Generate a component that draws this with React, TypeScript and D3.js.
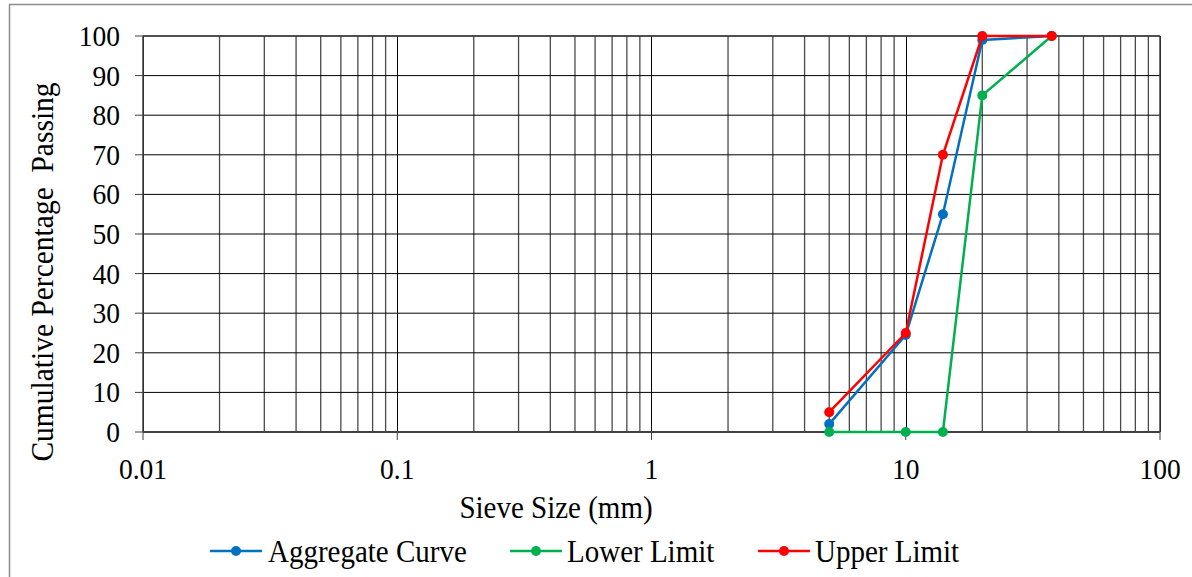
import React from "react";
import * as d3 from "d3";

const sieveSizes = [5, 10, 14, 20, 37.5];
const aggregateCurve = [2, 24.5, 55, 99, 100];
const lowerLimit = [0, 0, 0, 85, 100];
const upperLimit = [5, 25, 70, 100, 100];
const xTickValues = [0.01, 0.1, 1, 10, 100];
const xTickLabels = ["0.01", "0.1", "1", "10", "100"];
const yTickValues = [0, 10, 20, 30, 40, 50, 60, 70, 80, 90, 100];

const series = [
  { name: "Aggregate Curve", values: aggregateCurve, color: "#0070C0" },
  { name: "Lower Limit", values: lowerLimit, color: "#00B050" },
  { name: "Upper Limit", values: upperLimit, color: "#FF0000" },
];

const W = 1192;
const H = 577;
const L = 143;
const R = 1160;
const T = 36;
const B = 432;
const FONT = "'Liberation Serif', 'Times New Roman', serif";
const SY = 1.08;

export default function App() {
  const x = d3.scaleLog().domain([0.01, 100]).range([L, R]);
  const y = d3.scaleLinear().domain([0, 100]).range([B, T]);

  const minorVals: number[] = [];
  for (let k = -2; k <= 1; k++) {
    for (let m = 2; m <= 9; m++) minorVals.push(m * Math.pow(10, k));
  }

  const line = d3
    .line<[number, number]>()
    .x((d) => x(d[0]))
    .y((d) => y(d[1]));

  const legendItems = [
    { x0: 210, tx: 268 },
    { x0: 510, tx: 567 },
    { x0: 758, tx: 815 },
  ];

  return (
    <svg
      width={W}
      height={H}
      style={{ position: "absolute", left: 0, top: 0, display: "block", background: "#fff" }}
      fontFamily={FONT}
    >
      <rect x={0} y={0} width={W} height={H} fill="#fff" />
      <rect x={9.5} y={4.5} width={W + 10} height={H + 10} fill="none" stroke="#8c8c8c" strokeWidth={1.5} />

      {/* minor vertical gridlines */}
      {minorVals.map((v, i) => (
        <line key={"mv" + i} x1={x(v)} x2={x(v)} y1={T} y2={B} stroke="#4a4a4a" strokeWidth={1.3} />
      ))}
      {/* major vertical gridlines */}
      {xTickValues.map((v, i) => (
        <line key={"Mv" + i} x1={Math.round(x(v)) + 0.5} x2={Math.round(x(v)) + 0.5} y1={T} y2={B} stroke="#000" strokeWidth={1} />
      ))}
      {/* horizontal gridlines */}
      {yTickValues.map((v, i) => (
        <line key={"h" + i} x1={L} x2={R} y1={y(v)} y2={y(v)} stroke="#000" strokeWidth={1} />
      ))}

      {/* axes */}
      <line x1={L} x2={L} y1={T} y2={B} stroke="#404040" strokeWidth={1.5} />
      <line x1={L} x2={R} y1={B} y2={B} stroke="#404040" strokeWidth={2} />
      <line x1={L} x2={R} y1={T} y2={T} stroke="#404040" strokeWidth={1.5} />
      <line x1={R} x2={R} y1={T} y2={B} stroke="#404040" strokeWidth={1.5} />

      {/* y ticks */}
      {yTickValues.map((v, i) => (
        <g key={"yt" + i}>
          <line x1={L - 8} x2={L} y1={y(v)} y2={y(v)} stroke="#404040" strokeWidth={1} />
          <text transform={`translate(120, ${y(v) + 10}) scale(1, ${SY})`} textAnchor="end" fontSize={27.5} fill="#000">
            {v}
          </text>
        </g>
      ))}

      {/* x ticks */}
      {xTickValues.map((v, i) => (
        <g key={"xt" + i}>
          <line x1={x(v)} x2={x(v)} y1={B} y2={B + 8} stroke="#404040" strokeWidth={1} />
          <text transform={`translate(${x(v)}, 479) scale(1, ${SY})`} textAnchor="middle" fontSize={27.5} fill="#000">
            {xTickLabels[i]}
          </text>
        </g>
      ))}

      {/* series */}
      {series.map((s) => {
        const pts = sieveSizes.map((sz, i) => [sz, s.values[i]] as [number, number]);
        return (
          <g key={s.name}>
            <path d={line(pts) || ""} fill="none" stroke={s.color} strokeWidth={2.5} />
            {pts.map((p, i) => (
              <circle key={i} cx={x(p[0])} cy={y(p[1])} r={5} fill={s.color} />
            ))}
          </g>
        );
      })}

      {/* axis titles */}
      <text transform={`translate(556, 518) scale(1, ${SY})`} textAnchor="middle" fontSize={29} fill="#000">
        Sieve Size (mm)
      </text>
      <text
        transform={`translate(53, 272) rotate(-90) scale(1, ${SY})`}
        textAnchor="middle"
        fontSize={29.5}
        fill="#000"
        style={{ whiteSpace: "pre" }}
      >
        {"Cumulative Percentage  Passing"}
      </text>

      {/* legend */}
      {series.map((s, i) => (
        <g key={"lg" + i}>
          <line x1={legendItems[i].x0} x2={legendItems[i].x0 + 52} y1={551} y2={551} stroke={s.color} strokeWidth={2.5} />
          <circle cx={legendItems[i].x0 + 26} cy={551} r={5} fill={s.color} />
          <text transform={`translate(${legendItems[i].tx}, 561.5) scale(1, ${SY})`} fontSize={29} fill="#000">
            {s.name}
          </text>
        </g>
      ))}
    </svg>
  );
}
